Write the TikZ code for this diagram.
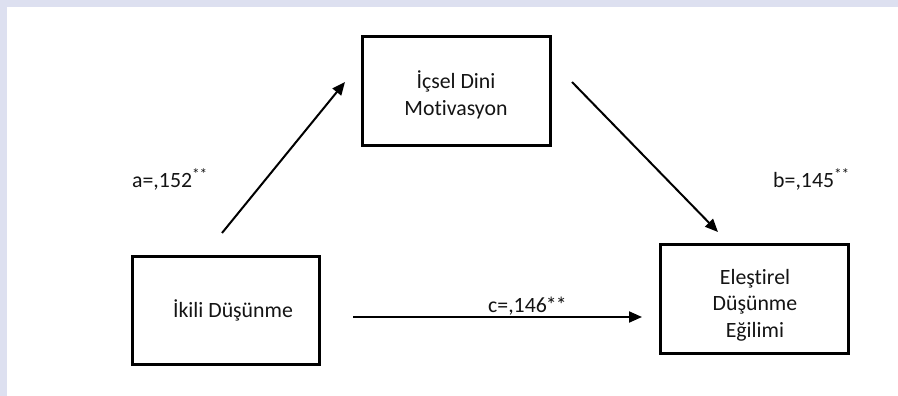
\documentclass[tikz,border=0pt]{standalone}
\usepackage{fontspec}
\setmainfont{Carlito}[Ligatures={NoCommon}]
\usetikzlibrary{arrows.meta}
\definecolor{frame}{RGB}{221,224,240}
\definecolor{ink}{RGB}{20,20,20}
\tikzset{
  boxnode/.style={draw=black, line width=3pt, inner sep=0pt},
  txt/.style={text=ink, font=\fontsize{21.8}{26.5}\selectfont, align=center, inner sep=0pt},
  lbl/.style={text=ink, font=\fontsize{21.8}{26.5}\selectfont, inner sep=0pt, anchor=base west},
  conn/.style={draw=black, line width=2pt, -{Triangle[length=13pt,width=11pt]}}
}
\begin{document}
\begin{tikzpicture}[x=1pt, y=-1pt]
  \useasboundingbox (0,0) rectangle (898,396);
  \fill[frame] (0,0) rectangle (898,396);
  \fill[white] (7,7) rectangle (898,396);
  % boxes
  \node[boxnode, minimum width=188pt, minimum height=109pt] (m) at (456.5,91) {};
  \node[boxnode, minimum width=187pt, minimum height=108pt] (x) at (226,310.5) {};
  \node[boxnode, minimum width=188pt, minimum height=109pt] (y) at (754.5,299) {};
  % texts
  \node[txt] (mt) at (456,95) {İçsel Dini\\Motivasyon};
  \node[txt] (xt) at (233,310) {İkili Düşünme};
  \node[txt] (yt) at (755,305) {Eleştirel\\Düşünme\\Eğilimi};
  % labels
  \node[lbl] (la) at (132,187) {a=,152\textsuperscript{**}};
  \node[lbl] (lb) at (773,187) {b=,145\textsuperscript{**}};
  \node[lbl] (lc) at (488,312) {c=,146\kern-1pt*\kern-1pt*};
  % connectors
  \coordinate (a1) at (222,233);
  \coordinate (a2) at (345,82);
  \coordinate (b1) at (572,82);
  \coordinate (b2) at (718,232);
  \coordinate (c1) at (353,317);
  \coordinate (c2) at (642,317);
  \draw[conn] (a1) -- (a2);
  \draw[conn] (b1) -- (b2);
  \draw[conn] (c1) -- (c2);
\end{tikzpicture}
\end{document}
